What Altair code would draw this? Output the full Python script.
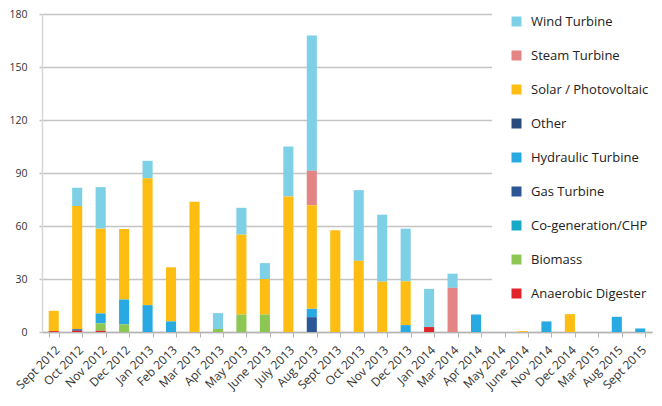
import altair as alt
import pandas as pd

months = ["Sept 2012", "Oct 2012", "Nov 2012", "Dec 2012", "Jan 2013", "Feb 2013",
          "Mar 2013", "Apr 2013", "May 2013", "June 2013", "July 2013", "Aug 2013",
          "Sept 2013", "Oct 2013", "Nov 2013", "Dec 2013", "Jan 2014", "Mar 2014",
          "Apr 2014", "May 2014", "June 2014", "Nov 2014", "Dec 2014", "Mar 2015",
          "Aug 2015", "Sept 2015"]

types = ["Wind Turbine", "Steam Turbine", "Solar / Photovoltaic", "Other",
         "Hydraulic Turbine", "Gas Turbine", "Co-generation/CHP", "Biomass",
         "Anaerobic Digester"]
colors = ["#7dd0e6", "#e38585", "#fdbd13", "#284a7c", "#27aae2", "#2c5797",
          "#16aac8", "#8cc653", "#e0242a"]

wind      = [0, 10.3, 23.5, 0, 9.9, 0, 0, 9.0, 15.2, 9.0, 28.3, 76.5, 0, 40.0, 37.9, 29.8, 21.6, 8.0, 0, 0, 0, 0, 0, 0, 0, 0]
steam     = [0, 0, 0, 0, 0, 0, 0, 0, 0, 0, 0, 19.5, 0, 0, 0, 0, 0, 25.0, 0, 0, 0, 0, 0, 0, 0, 0]
solar     = [11.5, 69.8, 48.0, 39.9, 71.8, 30.6, 73.7, 0, 45.2, 20.1, 76.7, 58.7, 57.6, 40.3, 28.5, 24.8, 0, 0, 0, 0, 0.5, 0, 10.1, 0, 0, 0]
other     = [0] * 26
hydraulic = [0, 0, 5.6, 14.1, 15.2, 6.0, 0, 0, 0, 0, 0, 4.7, 0, 0, 0, 3.9, 0, 0, 9.9, 0, 0, 6.0, 0, 0, 8.6, 2.0]
gas       = [0, 0.8, 0, 0, 0, 0, 0, 0, 0, 0, 0, 8.4, 0, 0, 0, 0, 0, 0, 0, 0, 0, 0, 0, 0, 0, 0]
cogen     = [0] * 26
biomass   = [0, 0, 4.2, 4.3, 0, 0, 0, 1.7, 9.9, 9.9, 0, 0, 0, 0, 0, 0, 0, 0, 0, 0, 0, 0, 0, 0, 0, 0]
anaerobic = [0.5, 0.7, 0.7, 0, 0, 0, 0, 0, 0, 0, 0, 0, 0, 0, 0, 0, 2.8, 0, 0, 0, 0, 0, 0, 0, 0, 0]

series = [wind, steam, solar, other, hydraulic, gas, cogen, biomass, anaerobic]

rows = []
for t_idx, (t, vals) in enumerate(zip(types, series)):
    for m, v in zip(months, vals):
        if v > 0:
            rows.append({"month": m, "type": t, "value": v,
                         "stack": len(types) - 1 - t_idx})
df = pd.DataFrame(rows)

chart = alt.Chart(df).mark_bar().encode(
    x=alt.X("month:N", sort=months,
            scale=alt.Scale(domain=months, paddingInner=0.57, paddingOuter=0.285),
            axis=alt.Axis(title=None, labelAngle=-45, tickBand="extent", tickSize=5,
                          tickColor="#b5b5b5", domainColor="#b5b5b5", domainWidth=1.5,
                          labelFontSize=12, labelFont="Open Sans", labelColor="#333333",
                          labelPadding=7)),
    y=alt.Y("value:Q", stack="zero",
            scale=alt.Scale(domain=[0, 180], nice=False),
            axis=alt.Axis(title=None, values=[0, 30, 60, 90, 120, 150, 180],
                          grid=True, gridColor="#c4c4c4", gridWidth=1.5,
                          domainColor="#d6d6d6", domainWidth=1.5,
                          tickSize=3, tickColor="#c4c4c4", tickWidth=1.5,
                          labelPadding=12, labelFontSize=10.5, labelFont="Open Sans",
                          labelColor="#333333")),
    color=alt.Color("type:N",
                    scale=alt.Scale(domain=types, range=colors),
                    legend=alt.Legend(title=None, orient="none", legendX=450, legendY=-9,
                                      fillColor="white", padding=10, symbolOffset=8,
                                      symbolType="square", symbolSize=100,
                                      symbolStrokeWidth=0, labelFontSize=13,
                                      labelFont="Open Sans", labelColor="#222222",
                                      labelOffset=8, rowPadding=20, labelLimit=200)),
    order=alt.Order("stack:Q", sort="ascending"),
).properties(
    width=610, height=318,
    autosize=alt.AutoSizeParams(type="none"),
    padding={"left": 34, "top": 6, "right": 2, "bottom": 60},
).configure_view(stroke=None)

chart.save("out.html", embed_options={"renderer": "svg", "actions": False})
